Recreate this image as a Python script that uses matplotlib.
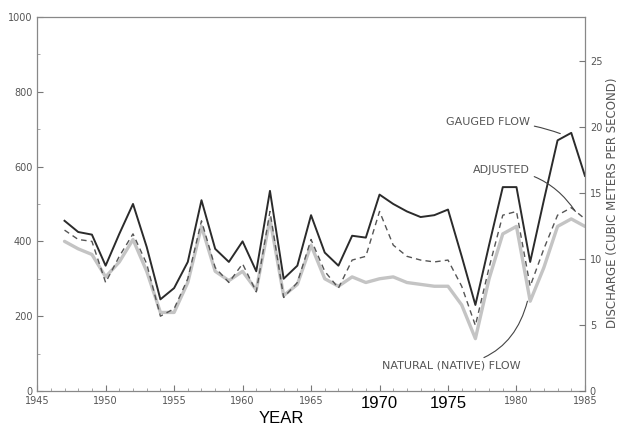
import matplotlib.pyplot as plt

# annual mean discharge, cubic feet per second
years = list(range(1947, 1986))
gauged = [455, 425, 418, 335, 420, 500, 385, 245, 275, 345,
          510, 380, 345, 400, 320, 535, 300, 335, 470, 370,
          335, 415, 410, 525, 500, 480, 465, 470, 485, 360,
          230, 390, 545, 545, 345, 510, 670, 690, 575]
adjusted = [430, 405, 400, 290, 360, 420, 340, 200, 220, 300,
            455, 330, 290, 340, 265, 480, 250, 290, 405, 320,
            275, 350, 360, 480, 390, 360, 350, 345, 350, 280,
            175, 330, 470, 480, 280, 380, 470, 490, 460]
natural = [400, 380, 365, 305, 345, 405, 320, 210, 210, 290,
           440, 320, 295, 320, 270, 460, 255, 285, 390, 300,
           280, 305, 290, 300, 305, 290, 285, 280, 280, 230,
           140, 300, 420, 440, 240, 330, 440, 460, 440]

xticks = [1945, 1950, 1955, 1960, 1965, 1970, 1975, 1980, 1985]
left_ticks = [0, 200, 400, 600, 800, 1000]
right_ticks = [0, 5, 10, 15, 20, 25]
CFS_TO_CMS = 0.0283168

txt = '#555555'

fig = plt.figure(figsize=(6.19, 4.30), dpi=100)
ax = fig.add_axes([0.06, 0.0907, 0.885, 0.87])

ax.plot(years, natural, color='#c4c4c4', lw=2.4, solid_capstyle='round')
ax.plot(years, adjusted, color='#555555', lw=1.0, linestyle=(0, (4, 3)))
ax.plot(years, gauged, color='#2b2b2b', lw=1.4)

ax.set_xlim(1945, 1985)
ax.set_ylim(0, 1000)
ax.set_xticks(xticks)
ax.set_xticks(range(1945, 1986), minor=True)
ax.set_yticks(left_ticks)
ax.set_yticks(range(0, 1001, 100), minor=True)
ax.tick_params(direction='in', length=4, colors='#777777', labelsize=7, labelcolor=txt)
ax.tick_params(which='minor', direction='in', length=2, colors='#999999')

ax.set_xticklabels([str(y) for y in xticks])
for lab in ax.get_xticklabels():
    if lab.get_text() in ('1970', '1975'):
        lab.set_fontsize(12)
        lab.set_color('black')
        lab.set_family('Liberation Sans')

for s in ax.spines.values():
    s.set_color('#888888')
    s.set_linewidth(0.9)

fig.text(0.455, 0.01, 'YEAR', fontsize=12, color='black', ha='center', va='bottom',
         family='Liberation Sans')

ax2 = ax.twinx()
ax2.set_ylim(0, 1000 * CFS_TO_CMS)
ax2.set_yticks(right_ticks)
ax2.tick_params(direction='in', length=4, colors='#777777', labelsize=7, labelcolor=txt)
ax2.set_ylabel('DISCHARGE (CUBIC METERS PER SECOND)', fontsize=8.5, color=txt)
ax2.yaxis.set_label_coords(1.038, 0.503)
for s in ax2.spines.values():
    s.set_visible(False)

# labels with leader lines
ax.annotate('GAUGED FLOW', xy=(1983.2, 688), xytext=(1981.0, 718),
            ha='right', va='center', fontsize=8, color=txt,
            arrowprops=dict(arrowstyle='-', color='#444444', lw=0.8,
                            connectionstyle='arc3,rad=-0.1', shrinkA=1, shrinkB=0))
ax.annotate('ADJUSTED', xy=(1984.3, 480), xytext=(1981.0, 592),
            ha='right', va='center', fontsize=8, color=txt,
            arrowprops=dict(arrowstyle='-', color='#444444', lw=0.8,
                            connectionstyle='arc3,rad=-0.25', shrinkA=1, shrinkB=0))
ax.annotate('NATURAL (NATIVE) FLOW', xy=(1980.8, 240), xytext=(1980.3, 67),
            ha='right', va='center', fontsize=8, color=txt,
            arrowprops=dict(arrowstyle='-', color='#444444', lw=0.8,
                            connectionstyle='arc3,rad=0.35', shrinkA=1, shrinkB=0))

fig.savefig('out.png', dpi=100)
